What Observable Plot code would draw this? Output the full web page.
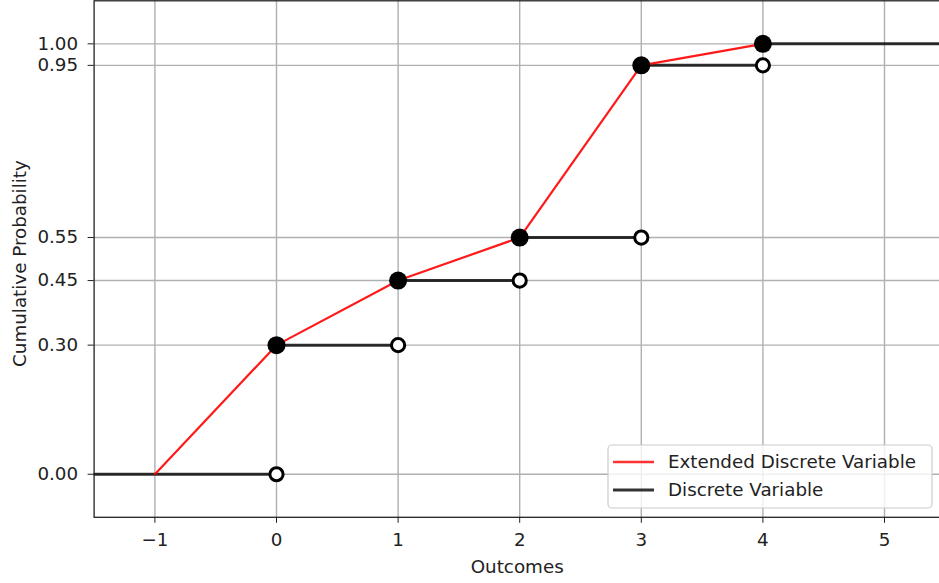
<!DOCTYPE html>
<html><head><meta charset="utf-8">
<script src="https://cdn.jsdelivr.net/npm/d3@7"></script>
<script src="https://cdn.jsdelivr.net/npm/@observablehq/plot@0.6"></script>
<style>body{margin:0;background:#fff;} #chart{position:relative;width:939px;height:583px;overflow:hidden;}</style>
</head><body><div id="chart"></div>
<script>
const outcomes = [0, 1, 2, 3, 4];
const cumProb = [0.30, 0.45, 0.55, 0.95, 1.00];
const prevProb = [0.00, 0.30, 0.45, 0.55, 0.95];
const extOutcomes = [-1, 0, 1, 2, 3, 4];
const extProb = [0.00, 0.30, 0.45, 0.55, 0.95, 1.00];
const stepStart = [-2, 0, 1, 2, 3, 4];
const stepEnd = [0, 1, 2, 3, 4, 7];
const stepProb = [0.00, 0.30, 0.45, 0.55, 0.95, 1.00];
const xTicks = [-1, 0, 1, 2, 3, 4, 5];
const yTicks = [0.00, 0.30, 0.45, 0.55, 0.95, 1.00];
const seriesNames = ["Extended Discrete Variable", "Discrete Variable"];
const seriesColors = ["#ff0000", "#000000"];
const xLabel = "Outcomes";
const yLabel = "Cumulative Probability";

const steps = stepStart.map((s, i) => ({x1: s, x2: stepEnd[i], y: stepProb[i]}));
const ext = extOutcomes.map((x, i) => ({x, y: extProb[i]}));
const closed = outcomes.map((x, i) => ({x, y: cumProb[i]}));
const open = outcomes.map((x, i) => ({x, y: prevProb[i]}));

const W = 939, H = 583;
const fs = 18.3;
const ink = "#222";
const plot = Plot.plot({
  width: W, height: H,
  marginLeft: 93.6, marginRight: -5.8, marginTop: 0.3, marginBottom: 66.2,
  style: {fontFamily: "'DejaVu Sans'", fontSize: fs + "px", color: ink, background: "#fff", overflow: "visible"},
  x: {domain: [-1.5, 5.5]},
  y: {domain: [-0.1, 1.1]},
  marks: [
    Plot.gridX(xTicks, {stroke: "#b0b0b0", strokeOpacity: 1, strokeWidth: 1.4}),
    Plot.gridY(yTicks, {stroke: "#b0b0b0", strokeOpacity: 1, strokeWidth: 1.4}),
    Plot.ruleY(steps, {y: "y", x1: "x1", x2: "x2", stroke: seriesColors[1], strokeOpacity: 0.8, strokeWidth: 3, clip: true}),
    Plot.line(ext, {x: "x", y: "y", stroke: seriesColors[0], strokeOpacity: 0.9, strokeWidth: 2.2}),
    Plot.dot(closed, {x: "x", y: "y", r: 9, fill: "#000", stroke: null}),
    Plot.dot(open, {x: "x", y: "y", r: 6.6, fill: "#fff", stroke: "#000", strokeWidth: 3}),
    Plot.frame({stroke: ink, strokeWidth: 1.3}),
    Plot.axisX(xTicks, {tickSize: 6, tickPadding: 10, fontSize: fs, tickFormat: d => d < 0 ? "\u2212" + (-d) : String(d), label: null}),
    Plot.axisY(yTicks, {tickSize: 6, tickPadding: 10, fontSize: fs, tickFormat: d3.format(".2f"), label: null}),
    Plot.text([xLabel], {text: d => d, frameAnchor: "bottom", lineAnchor: "middle", textAnchor: "middle", dy: 50, dx: -2.5, fontSize: fs}),
    Plot.text([yLabel], {text: d => d, frameAnchor: "left", lineAnchor: "middle", textAnchor: "middle", dx: -73.5, dy: 4.5, rotate: -90, fontSize: fs})
  ]
});

// legend (matplotlib-style box, lower right)
const g = d3.select(plot).append("g").attr("font-family", "'DejaVu Sans'").attr("font-size", fs).attr("text-anchor", "start");
g.append("rect").attr("x", 608).attr("y", 445).attr("width", 324).attr("height", 63)
  .attr("rx", 4).attr("fill", "#fff").attr("fill-opacity", 0.8).attr("stroke", "#cccccc").attr("stroke-width", 1.2);
seriesNames.forEach((name, i) => {
  const cy = 462 + i * 28;
  g.append("line").attr("x1", 613).attr("x2", 654).attr("y1", cy).attr("y2", cy)
    .attr("stroke", seriesColors[i]).attr("stroke-opacity", 0.8).attr("stroke-width", i === 0 ? 2.4 : 3);
  g.append("text").attr("x", 668).attr("y", cy).attr("dy", "0.35em").attr("fill", ink).attr("text-anchor", "start").text(name);
});

document.getElementById("chart").appendChild(plot);
</script>
</body></html>
